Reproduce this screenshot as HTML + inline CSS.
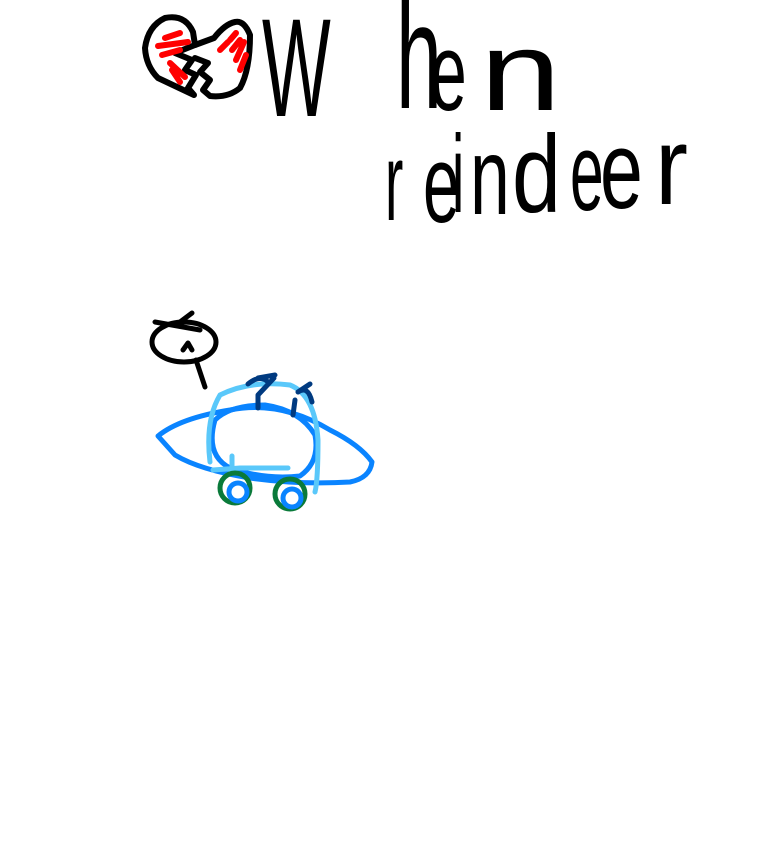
<!DOCTYPE html>
<html><head><meta charset="utf-8"><style>
html,body{margin:0;padding:0;background:#fff;width:768px;height:866px;overflow:hidden}
svg{display:block}
text{font-family:"Liberation Sans",sans-serif;fill:#000}
</style></head><body>
<svg width="768" height="866" viewBox="0 0 768 866" xmlns="http://www.w3.org/2000/svg">
<g fill="none" stroke-linecap="round" stroke-linejoin="round">
<path d="M194 95 L158 78 Q146 66 145 48 Q148 26 165 18 Q185 14 193 32 L195 45 L175 53 L192 60 L185 70 L196 75 L188 88 Z" stroke="#000" stroke-width="6"/>
<path d="M195 45 L214 38 Q225 24 235 22 Q244 20 250 35 Q250 70 240 88 Q228 98 210 96 L203 90 L210 80 L200 72 L208 63 L195 58" stroke="#000" stroke-width="6"/>
<path d="M165 38 L180 33 M158 46 L188 42 M162 55 L180 50 M170 63 L185 77 M172 70 L180 82 M230 40 L236 33 M232 50 L240 40 M236 60 L244 42 M240 70 L246 55 M220 50 L228 42" stroke="#f00" stroke-width="6"/>
</g>
<text transform="translate(262,116) scale(0.52,1)" font-size="140">W</text>
<text transform="translate(396,108) scale(0.55,1)" font-size="150">h</text>
<text transform="translate(430,110) scale(0.6,1)" font-size="110">e</text>
<text transform="translate(480,110) scale(1.3,1)" font-size="112">n</text>
<g font-size="110">
<text transform="translate(385,220) scale(0.5,1)">r</text>
<text transform="translate(423,222) scale(0.6,1)">e</text>
<text transform="translate(452,212) scale(0.5,1)">i</text>
<text transform="translate(470,214) scale(0.65,1)">n</text>
<text transform="translate(512,212) scale(0.8,1)">d</text>
<text transform="translate(570,210) scale(0.55,1)">e</text>
<text transform="translate(600,208) scale(0.7,1)">e</text>
<text transform="translate(655,204) scale(0.9,1)">r</text>
</g>
<g fill="none" stroke-linecap="round" stroke-linejoin="round">
<ellipse cx="184" cy="342" rx="32" ry="20" stroke="#000" stroke-width="5"/>
<path d="M155 322 L200 330 M180 322 L192 313 M183 350 L188 343 L192 350 M196 360 L205 387" stroke="#000" stroke-width="5"/>
<path d="M158 436 Q180 418 230 410 Q280 400 330 430 Q360 445 372 462 Q370 478 350 482 Q300 485 250 478 Q200 470 175 455 Z" stroke="#0a84ff" stroke-width="5"/>
<path d="M215 420 Q205 455 230 468 Q265 480 300 476 Q320 462 315 435 Q300 410 265 405 Q230 405 215 420" stroke="#0a84ff" stroke-width="5"/>
<path d="M210 462 Q205 420 220 395 Q250 380 290 385 Q315 395 318 440 Q318 480 315 492 M213 470 L240 468 L288 468 M232 456 L232 470" stroke="#5ac8fa" stroke-width="5"/>
<path d="M248 384 Q260 374 268 382 M298 392 Q308 385 312 402 M258 378 L275 375 M274 378 L258 395 L258 408 M295 400 L293 415 M298 392 L310 384" stroke="#003a80" stroke-width="5"/>
<circle cx="235" cy="488" r="15" stroke="#0a7a3a" stroke-width="5"/>
<circle cx="290" cy="494" r="15" stroke="#0a7a3a" stroke-width="5"/>
<circle cx="238" cy="492" r="9" stroke="#0a84ff" stroke-width="5"/>
<circle cx="292" cy="498" r="9" stroke="#0a84ff" stroke-width="5"/>
</g>
</svg>
</body></html>
